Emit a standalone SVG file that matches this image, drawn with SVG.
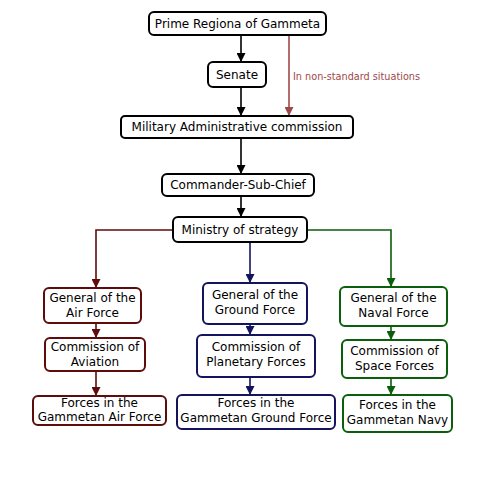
<svg xmlns="http://www.w3.org/2000/svg" width="480" height="480" viewBox="0 0 480 480">
<style>
text{font-family:"DejaVu Sans",Verdana,sans-serif;font-size:12px;text-anchor:middle;fill:#000}
.box{fill:#fff;stroke-width:2}
.k{stroke:#000}.r{stroke:#5e0b0b}.b{stroke:#14145e}.g{stroke:#0b5e0b}
.c{fill:none;stroke-width:1.6}
.lbl{fill:#a04848;font-size:9.7px;text-anchor:start}
</style>
<defs>
<marker id="ak" viewBox="0 0 10 10" refX="10" refY="5" markerWidth="9" markerHeight="9" markerUnits="userSpaceOnUse" orient="auto"><path d="M0,0L10,5L0,10z" fill="#000"/></marker>
<marker id="ar" viewBox="0 0 10 10" refX="10" refY="5" markerWidth="9" markerHeight="9" markerUnits="userSpaceOnUse" orient="auto"><path d="M0,0L10,5L0,10z" fill="#5e0b0b"/></marker>
<marker id="ab" viewBox="0 0 10 10" refX="10" refY="5" markerWidth="9" markerHeight="9" markerUnits="userSpaceOnUse" orient="auto"><path d="M0,0L10,5L0,10z" fill="#14145e"/></marker>
<marker id="ag" viewBox="0 0 10 10" refX="10" refY="5" markerWidth="9" markerHeight="9" markerUnits="userSpaceOnUse" orient="auto"><path d="M0,0L10,5L0,10z" fill="#0b5e0b"/></marker>
<marker id="al" viewBox="0 0 10 10" refX="10" refY="5" markerWidth="9" markerHeight="9" markerUnits="userSpaceOnUse" orient="auto"><path d="M0,0L10,5L0,10z" fill="#a04848"/></marker>
</defs>
<g id="connectors">
<line class="c" stroke="#000" x1="241" y1="35" x2="241" y2="62" marker-end="url(#ak)"/>
<line class="c" stroke="#000" x1="241" y1="87" x2="241" y2="116" marker-end="url(#ak)"/>
<line class="c" stroke="#a04848" x1="289" y1="35" x2="289" y2="116" marker-end="url(#al)"/>
<line class="c" stroke="#000" x1="241" y1="138" x2="241" y2="174" marker-end="url(#ak)"/>
<line class="c" stroke="#000" x1="241" y1="196" x2="241" y2="217" marker-end="url(#ak)"/>
<polyline class="c" stroke="#5e0b0b" points="173,230 96,230 96,288" marker-end="url(#ar)"/>
<line class="c" stroke="#14145e" x1="250" y1="242" x2="250" y2="283" marker-end="url(#ab)"/>
<polyline class="c" stroke="#0b5e0b" points="307,230 391,230 391,287" marker-end="url(#ag)"/>
<line class="c" stroke="#5e0b0b" x1="96" y1="323" x2="96" y2="338" marker-end="url(#ar)"/>
<line class="c" stroke="#5e0b0b" x1="96" y1="371" x2="96" y2="396" marker-end="url(#ar)"/>
<line class="c" stroke="#14145e" x1="250" y1="324" x2="250" y2="335" marker-end="url(#ab)"/>
<line class="c" stroke="#14145e" x1="250" y1="377" x2="250" y2="395" marker-end="url(#ab)"/>
<line class="c" stroke="#0b5e0b" x1="391" y1="326" x2="391" y2="340" marker-end="url(#ag)"/>
<line class="c" stroke="#0b5e0b" x1="391" y1="378" x2="391" y2="395" marker-end="url(#ag)"/>
<text class="lbl" x="293" y="80">In non-standard situations</text>
</g>
<g id="prime"><rect class="box k" x="149" y="12" width="177" height="23" rx="5"/><text x="237.5" y="28">Prime Regiona of Gammeta</text></g>
<g id="senate"><rect class="box k" x="208" y="62" width="58" height="25" rx="5"/><text x="237" y="79">Senate</text></g>
<g id="military"><rect class="box k" x="121" y="116" width="232" height="22" rx="4"/><text x="237" y="131">Military Administrative commission</text></g>
<g id="commander"><rect class="box k" x="162" y="174" width="152" height="22" rx="5"/><text x="238" y="189">Commander-Sub-Chief</text></g>
<g id="ministry"><rect class="box k" x="173" y="217" width="134" height="25" rx="5"/><text x="240" y="234">Ministry of strategy</text></g>
<g id="gen-air"><rect class="box r" x="44" y="288" width="97" height="35" rx="5"/><text x="92.5" y="302">General of the</text><text x="92.5" y="317">Air Force</text></g>
<g id="com-aviation"><rect class="box r" x="45" y="338" width="100" height="33" rx="5"/><text x="95" y="351">Commission of</text><text x="95" y="366">Aviation</text></g>
<g id="forces-air"><rect class="box r" x="33" y="396" width="133" height="29" rx="5"/><text x="99.5" y="407">Forces in the</text><text x="99.5" y="421">Gammetan Air Force</text></g>
<g id="gen-ground"><rect class="box b" x="203" y="283" width="104" height="41" rx="5"/><text x="255" y="299">General of the</text><text x="255" y="314">Ground Force</text></g>
<g id="com-planetary"><rect class="box b" x="197" y="335" width="118" height="42" rx="5"/><text x="256" y="351">Commission of</text><text x="256" y="366">Planetary Forces</text></g>
<g id="forces-ground"><rect class="box b" x="177" y="395" width="158" height="34" rx="5"/><text x="256" y="407">Forces in the</text><text x="256" y="422">Gammetan Ground Force</text></g>
<g id="gen-naval"><rect class="box g" x="340" y="287" width="107" height="39" rx="5"/><text x="393.5" y="302">General of the</text><text x="393.5" y="317">Naval Force</text></g>
<g id="com-space"><rect class="box g" x="342" y="340" width="105" height="38" rx="5"/><text x="394.5" y="355">Commission of</text><text x="394.5" y="370">Space Forces</text></g>
<g id="forces-navy"><rect class="box g" x="343" y="395" width="109" height="37" rx="5"/><text x="397.5" y="409">Forces in the</text><text x="397.5" y="424">Gammetan Navy</text></g>
</svg>
